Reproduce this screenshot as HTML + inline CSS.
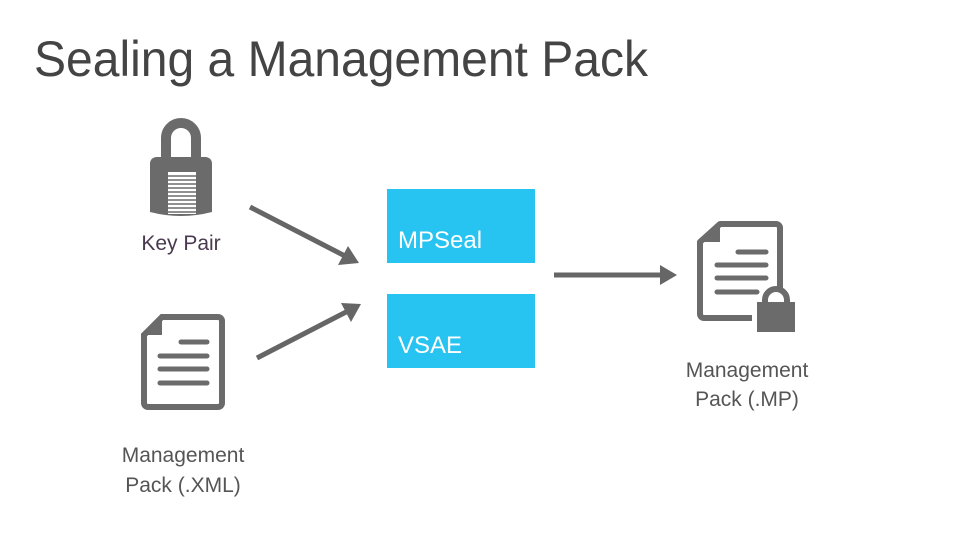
<!DOCTYPE html>
<html><head><meta charset="utf-8"><style>
html,body{margin:0;padding:0;background:#fff;width:979px;height:551px;overflow:hidden}
svg text{font-family:"Liberation Sans",sans-serif}
</style></head><body>
<svg width="979" height="551" viewBox="0 0 979 551" xmlns="http://www.w3.org/2000/svg">
<text x="34" y="76" font-size="50" fill="#444" textLength="614" lengthAdjust="spacingAndGlyphs">Sealing a Management Pack</text>
<!-- padlock -->
<path d="M166 160 V138 a15 15 0 0 1 30 0 V160" fill="none" stroke="#6b6b6b" stroke-width="10"/>
<path d="M150 164 Q150 158 156 157 L206 157 Q212 158 212 164 L212 212 Q181 220 150 212 Z" fill="#6b6b6b"/>
<rect x="168" y="172" width="28" height="42" fill="#fff"/>
<g stroke="#6b6b6b" stroke-width="1.4">
<line x1="168" y1="176" x2="196" y2="176"/><line x1="168" y1="180" x2="196" y2="180"/><line x1="168" y1="184" x2="196" y2="184"/><line x1="168" y1="188" x2="196" y2="188"/><line x1="168" y1="192" x2="196" y2="192"/><line x1="168" y1="196" x2="196" y2="196"/><line x1="168" y1="200" x2="196" y2="200"/><line x1="168" y1="204" x2="196" y2="204"/><line x1="168" y1="208" x2="196" y2="208"/><line x1="168" y1="212" x2="196" y2="212"/>
</g>
<text x="181" y="250" font-size="21" fill="#4a3a50" text-anchor="middle">Key Pair</text>
<!-- left doc -->
<path d="M162 317 H218 a4 4 0 0 1 4 4 V403 a4 4 0 0 1 -4 4 H148 a4 4 0 0 1 -4 -4 V335 Z" fill="none" stroke="#6b6b6b" stroke-width="6"/>
<path d="M142 335 L162 315 V335 Z" fill="#6b6b6b"/>
<g stroke="#6b6b6b" stroke-width="5" stroke-linecap="round">
<line x1="181" y1="342" x2="207" y2="342"/><line x1="160" y1="356" x2="207" y2="356"/><line x1="160" y1="369" x2="207" y2="369"/><line x1="160" y1="383" x2="207" y2="383"/>
</g>
<text x="183" y="462" font-size="21" fill="#555" text-anchor="middle">Management</text>
<text x="183" y="492" font-size="21" fill="#555" text-anchor="middle">Pack (.XML)</text>
<!-- arrows -->
<g stroke="#666" stroke-width="5">
<line x1="250" y1="207" x2="345" y2="256"/>
<line x1="257" y1="358" x2="348" y2="311"/>
<line x1="554" y1="275" x2="665" y2="275"/>
</g>
<g fill="#666">
<polygon points="359,263 338,265 348,246"/>
<polygon points="361,304 351,322 341,303"/>
<polygon points="677,275 660,265 660,285"/>
</g>
<!-- boxes -->
<rect x="387" y="189" width="148" height="74" fill="#27c3f1"/>
<rect x="387" y="294" width="148" height="74" fill="#27c3f1"/>
<text x="398" y="248" font-size="24" fill="#fff">MPSeal</text>
<text x="398" y="353" font-size="24" fill="#fff">VSAE</text>
<!-- right doc -->
<path d="M780 290 V228 a4 4 0 0 0 -4 -4 H720 L700 242 V314 a4 4 0 0 0 4 4 H752" fill="none" stroke="#6b6b6b" stroke-width="6" stroke-linejoin="round"/>
<path d="M698 242 L720 222 V242 Z" fill="#6b6b6b"/>
<g stroke="#6b6b6b" stroke-width="5" stroke-linecap="round">
<line x1="738" y1="252" x2="766" y2="252"/><line x1="717" y1="265" x2="766" y2="265"/><line x1="717" y1="278" x2="766" y2="278"/><line x1="717" y1="292" x2="757" y2="292"/>
</g>
<path d="M765 305 V300 a11 11 0 0 1 22 0 V305" fill="none" stroke="#6b6b6b" stroke-width="6"/>
<rect x="757" y="302" width="38" height="30" fill="#6b6b6b"/>
<text x="747" y="377" font-size="21" fill="#555" text-anchor="middle">Management</text>
<text x="747" y="406" font-size="21" fill="#555" text-anchor="middle">Pack (.MP)</text>
</svg>
</body></html>
